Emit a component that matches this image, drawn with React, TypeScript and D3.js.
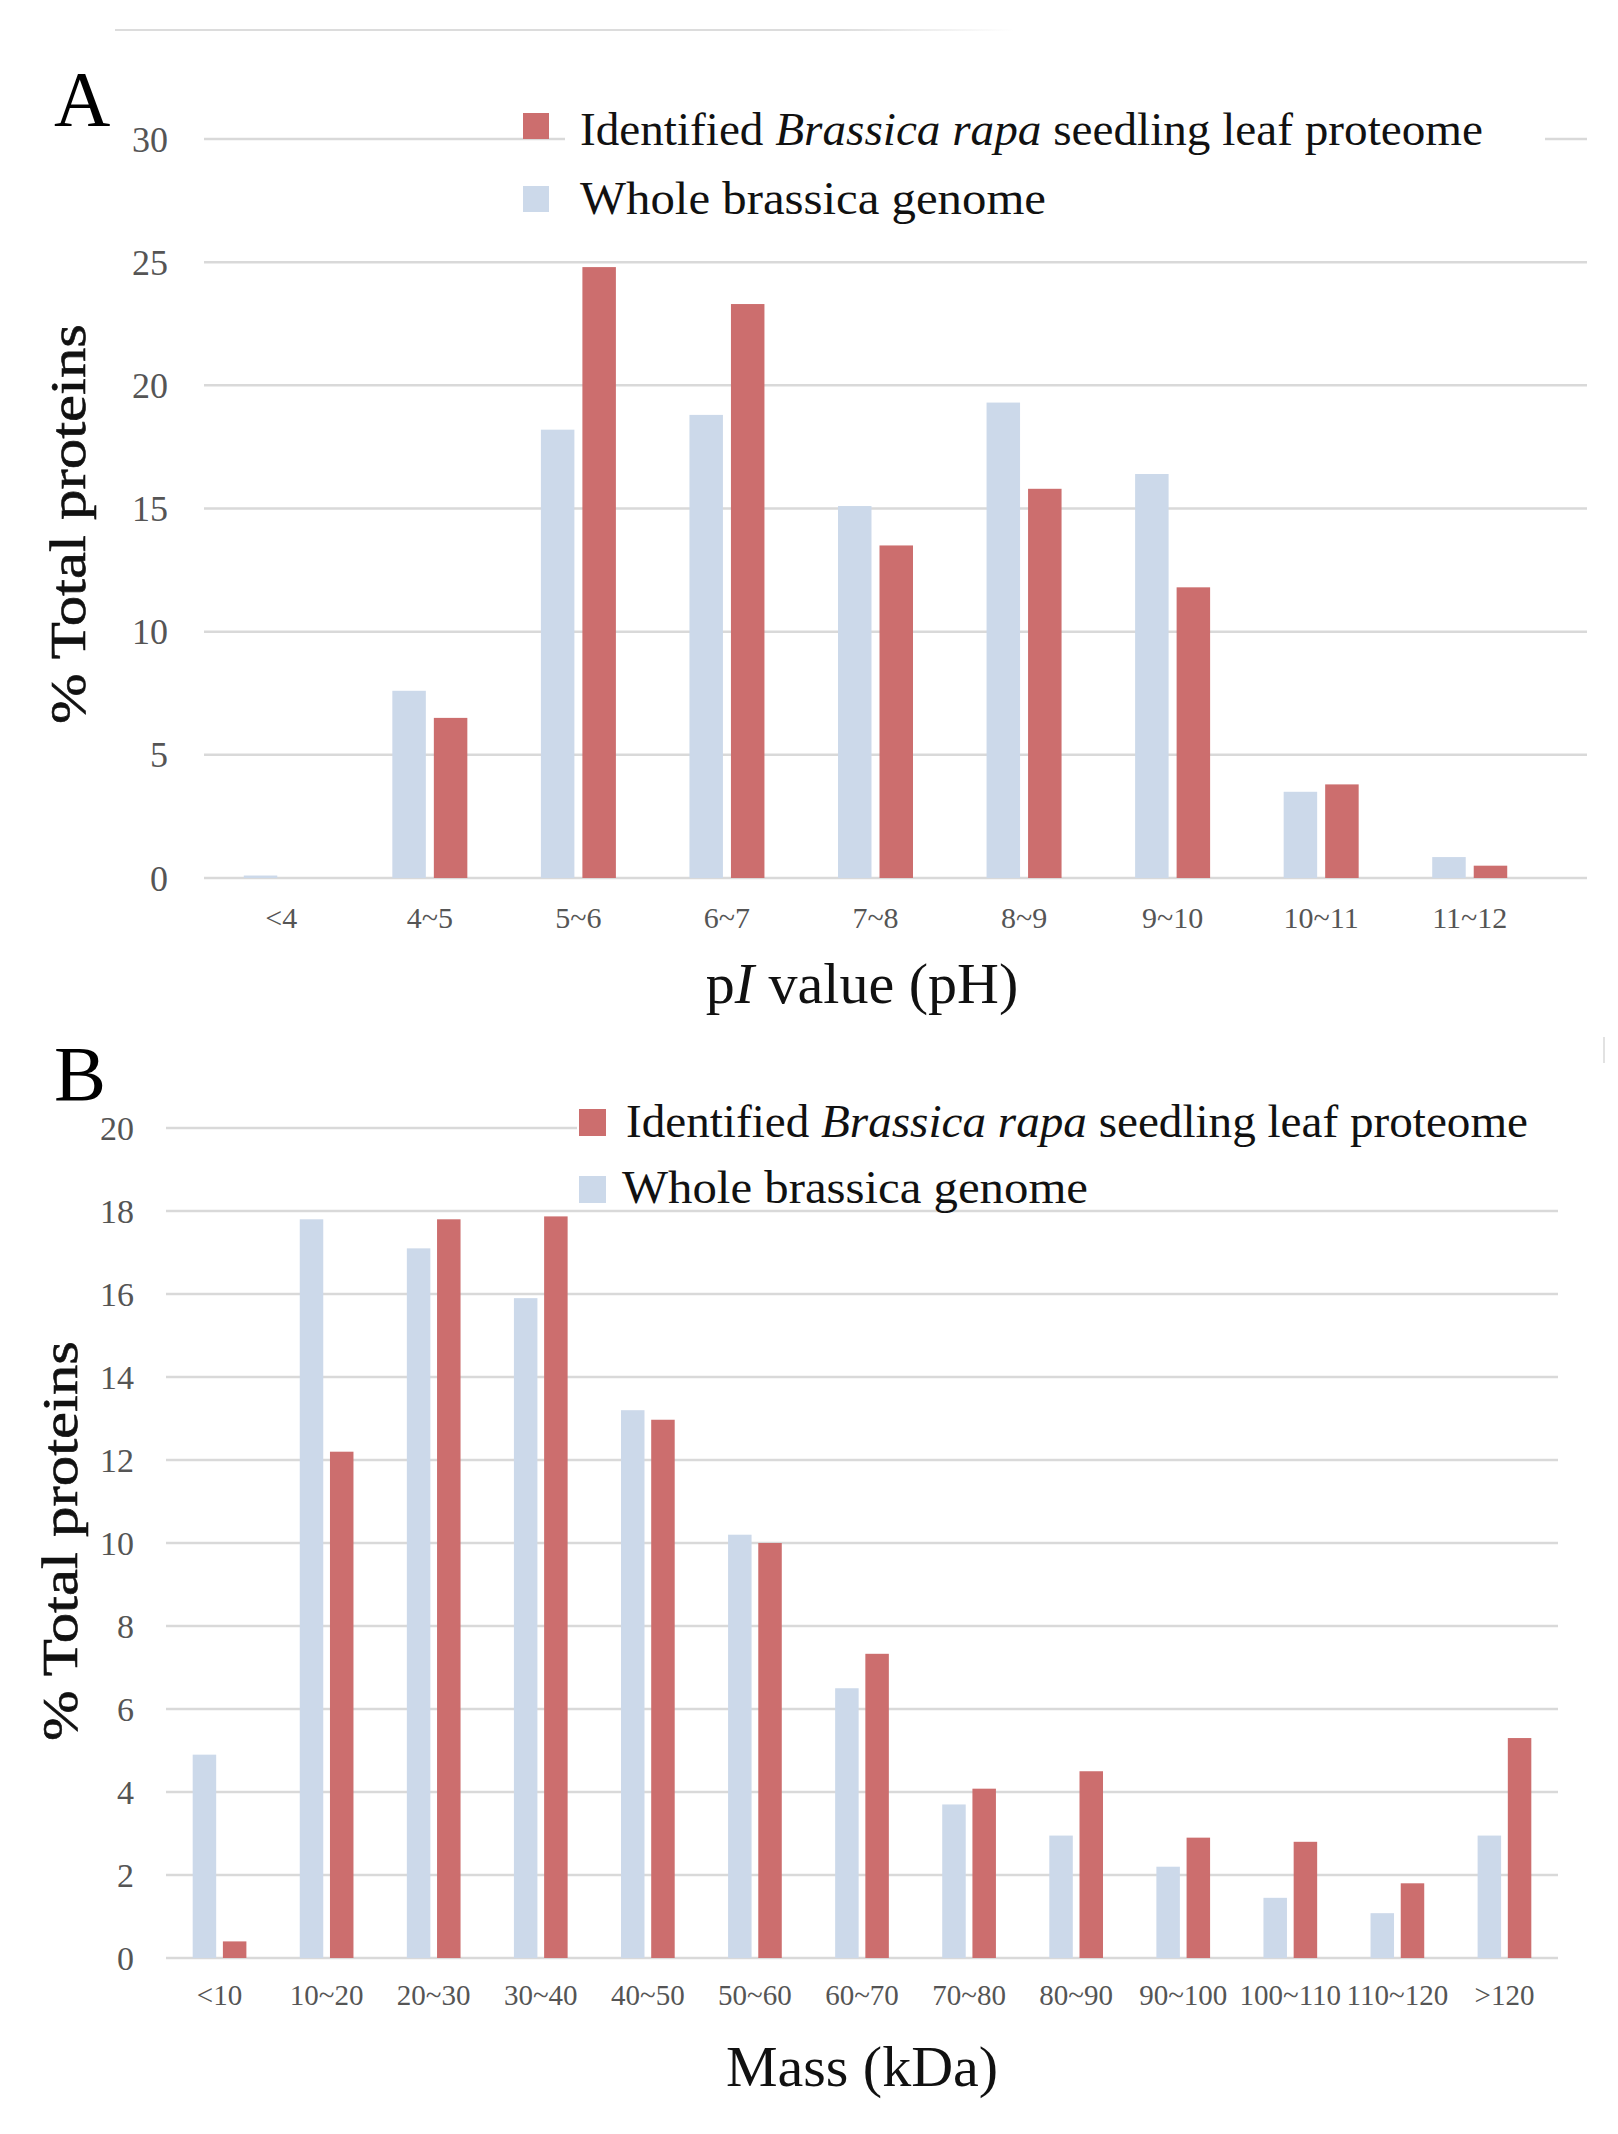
import React from "react";
import * as d3 from "d3";

// pI distribution (% of total proteins)
const pICategories = ["<4", "4~5", "5~6", "6~7", "7~8", "8~9", "9~10", "10~11", "11~12"];
const pIGenome = [0.1, 7.6, 18.2, 18.8, 15.1, 19.3, 16.4, 3.5, 0.85];
const pIProteome = [0, 6.5, 24.8, 23.3, 13.5, 15.8, 11.8, 3.8, 0.5];
const pITicks = [0, 5, 10, 15, 20, 25, 30];

// Molecular mass distribution (% of total proteins)
const massCategories = ["<10", "10~20", "20~30", "30~40", "40~50", "50~60", "60~70", "70~80", "80~90", "90~100", "100~110", "110~120", ">120"];
const massGenome = [4.9, 17.8, 17.1, 15.9, 13.2, 10.2, 6.5, 3.7, 2.95, 2.2, 1.45, 1.08, 2.95];
const massProteome = [0.4, 12.2, 17.8, 17.87, 12.97, 10.0, 7.33, 4.08, 4.5, 2.9, 2.8, 1.8, 5.3];
const massTicks = [0, 2, 4, 6, 8, 10, 12, 14, 16, 18, 20];

const seriesKeys = ["genome", "proteome"];
const RED = "#CC6E6E";
const BLUE = "#CCD9EA";
const GRID = "#D9D9D9";
const TICK = "#555555";
const SERIF = "'Liberation Serif', 'Times New Roman', serif";

type PanelProps = {
  label: string;
  labelY: number;
  categories: string[];
  genome: number[];
  proteome: number[];
  ticks: number[];
  yMax: number;
  yRange: [number, number];
  xRange: [number, number];
  gridX: [number, number];
  groupWidth: number;
  barPadding: number;
  tickX: number;
  tickSize: number;
  catY: number;
  catSize: number;
  legendBox: { x: number; y: number; w: number; h: number };
  legendSq: { x: number; y1: number; y2: number; size: number };
  legendText: { x1: number; x2: number; b1: number; b2: number; w1: number; w2: number };
  yTitle: { x: number; y: number };
  xTitle: { x: number; y: number; content: React.ReactNode };
};

function Panel(p: PanelProps) {
  const y = d3.scaleLinear().domain([0, p.yMax]).range(p.yRange);
  const x = d3.scaleBand<string>().domain(p.categories).range(p.xRange).padding(0);
  const sub = d3
    .scaleBand<string>()
    .domain(seriesKeys)
    .range([-p.groupWidth / 2, p.groupWidth / 2])
    .paddingInner(p.barPadding);
  const center = (c: string) => (x(c) as number) + x.bandwidth() / 2;
  const values: Record<string, number[]> = { genome: p.genome, proteome: p.proteome };
  const colors: Record<string, string> = { genome: BLUE, proteome: RED };

  return (
    <g>
      {/* horizontal gridlines */}
      {p.ticks.map((t) => (
        <line key={"g" + t} x1={p.gridX[0]} x2={p.gridX[1]} y1={y(t)} y2={y(t)} stroke={GRID} strokeWidth={2.5} />
      ))}
      {/* y tick labels */}
      {p.ticks.map((t) => (
        <text key={"t" + t} x={p.tickX} y={y(t)} dy="0.35em" textAnchor="end" fontSize={p.tickSize} fill={TICK} fontFamily={SERIF}>
          {t}
        </text>
      ))}
      {/* bars */}
      {p.categories.map((c, i) => (
        <g key={c}>
          {seriesKeys.map((k) => {
            const v = values[k][i];
            if (v <= 0) return null;
            return (
              <rect
                key={k}
                x={center(c) + (sub(k) as number)}
                y={y(v)}
                width={sub.bandwidth()}
                height={y(0) - y(v)}
                fill={colors[k]}
              />
            );
          })}
          <text x={center(c)} y={p.catY} textAnchor="middle" fontSize={p.catSize} fill={TICK} fontFamily={SERIF}>
            {c}
          </text>
        </g>
      ))}
      {/* legend */}
      <rect x={p.legendBox.x} y={p.legendBox.y} width={p.legendBox.w} height={p.legendBox.h} fill="#fff" />
      <rect x={p.legendSq.x} y={p.legendSq.y1} width={p.legendSq.size} height={p.legendSq.size} fill={RED} />
      <rect x={p.legendSq.x} y={p.legendSq.y2} width={p.legendSq.size} height={p.legendSq.size} fill={BLUE} />
      <text
        x={p.legendText.x1}
        y={p.legendText.b1}
        fontSize={47}
        fontFamily={SERIF}
        fill="#111"
        textLength={p.legendText.w1}
        lengthAdjust="spacingAndGlyphs"
      >
        Identified <tspan fontStyle="italic">Brassica rapa</tspan> seedling leaf proteome
      </text>
      <text
        x={p.legendText.x2}
        y={p.legendText.b2}
        fontSize={47}
        fontFamily={SERIF}
        fill="#111"
        textLength={p.legendText.w2}
        lengthAdjust="spacingAndGlyphs"
      >
        Whole brassica genome
      </text>
      {/* axis titles */}
      <text
        transform={`translate(${p.yTitle.x},${p.yTitle.y}) rotate(-90)`}
        textAnchor="middle"
        fontSize={50}
        fontFamily={SERIF}
        fill="#111"
        stroke="#111"
        strokeWidth={0.6}
        textLength={400}
        lengthAdjust="spacingAndGlyphs"
      >
        % Total proteins
      </text>
      <text x={p.xTitle.x} y={p.xTitle.y} textAnchor="middle" fontSize={58} fontFamily={SERIF} fill="#111">
        {p.xTitle.content}
      </text>
      {/* panel letter */}
      <text x={54} y={p.labelY} fontSize={78} fontFamily={SERIF} fill="#000">
        {p.label}
      </text>
    </g>
  );
}

export default function App() {
  return (
    <svg
      width={1618}
      height={2134}
      viewBox="0 0 1618 2134"
      style={{ position: "absolute", left: 0, top: 0, display: "block", background: "#fff" }}
    >
      <defs>
        <linearGradient id="fadeLine" x1="0" x2="1" y1="0" y2="0">
          <stop offset="0%" stopColor="#DCDCDC" />
          <stop offset="80%" stopColor="#DCDCDC" />
          <stop offset="100%" stopColor="#FFFFFF" />
        </linearGradient>
      </defs>
      <rect x={0} y={0} width={1618} height={2134} fill="#fff" />
      {/* thin frame remnants */}
      <rect x={115} y={29} width={900} height={2} fill="url(#fadeLine)" />
      <line x1={1604} x2={1604} y1={1037} y2={1063} stroke="#E2E2E2" strokeWidth={2} />

      <Panel
        label="A"
        labelY={125}
        categories={pICategories}
        genome={pIGenome}
        proteome={pIProteome}
        ticks={pITicks}
        yMax={30}
        yRange={[878, 139]}
        xRange={[207, 1544]}
        gridX={[204, 1587]}
        groupWidth={75}
        barPadding={0.193}
        tickX={168}
        tickSize={36}
        catY={928}
        catSize={30}
        legendBox={{ x: 565, y: 100, w: 980, h: 125 }}
        legendSq={{ x: 523, y1: 113, y2: 186, size: 26 }}
        legendText={{ x1: 580, x2: 580, b1: 145, b2: 214, w1: 903, w2: 466 }}
        yTitle={{ x: 85, y: 524 }}
        xTitle={{
          x: 862,
          y: 1003,
          content: (
            <>
              p<tspan fontStyle="italic">I</tspan> value (pH)
            </>
          ),
        }}
      />

      <Panel
        label="B"
        labelY={1100}
        categories={massCategories}
        genome={massGenome}
        proteome={massProteome}
        ticks={massTicks}
        yMax={20}
        yRange={[1958, 1128]}
        xRange={[166, 1558]}
        gridX={[166, 1558]}
        groupWidth={53.7}
        barPadding={0.222}
        tickX={134}
        tickSize={34}
        catY={2005}
        catSize={29}
        legendBox={{ x: 577, y: 1095, w: 990, h: 110 }}
        legendSq={{ x: 579, y1: 1109, y2: 1176, size: 27 }}
        legendText={{ x1: 626, x2: 622, b1: 1137, b2: 1203, w1: 902, w2: 466 }}
        yTitle={{ x: 77, y: 1541 }}
        xTitle={{ x: 862, y: 2086, content: "Mass (kDa)" }}
      />
    </svg>
  );
}
